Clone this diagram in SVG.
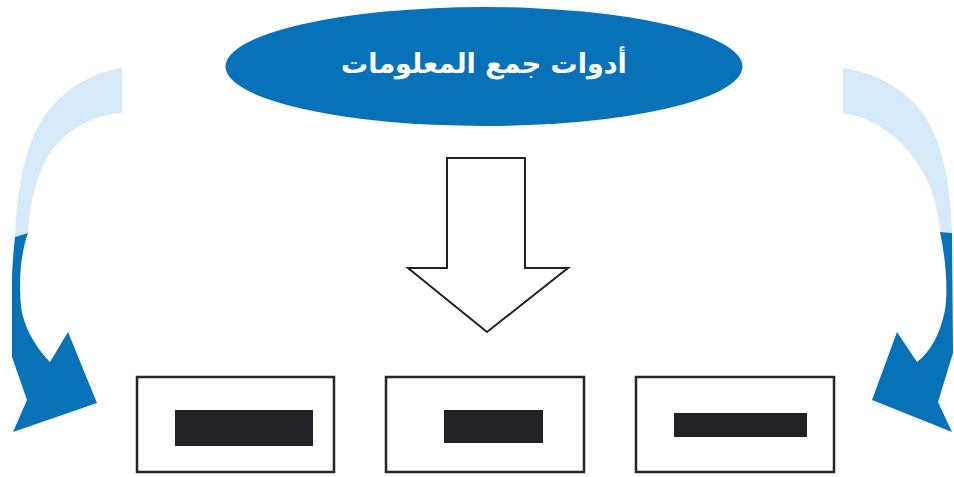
<svg xmlns="http://www.w3.org/2000/svg" width="954" height="477" viewBox="0 0 954 477">
<style>
.box{fill:#fff;stroke:#262626;stroke-width:2.5}
.bar{fill:#222226}
.light{fill:#d6e9f8}
.dark{fill:#0872b9}
.label{font-family:"DejaVu Sans",sans-serif;font-weight:bold;font-size:27px;fill:#fff;text-anchor:middle}
</style>
<rect width="954" height="477" fill="#fff"/>
<g id="title">
<ellipse cx="484" cy="66.5" rx="258.5" ry="59.5" class="dark"/>
<text x="484" y="73" class="label" direction="rtl">أدوات جمع المعلومات</text>
</g>
<g id="connectors">
<g id="left-arrow">
<path class="light" d="M122,68 C95,72 70,86 52,106 C30,132 18,170 15,237 L28,233 C30,200 38,170 52,150 C70,128 95,114 122,113 Z"/>
<path class="dark" d="M15,237 C13,255 12,270 12,283 L12,357 L27,400 L13,432 L97,403 L68,332 L50,362 C38,350 27,333 22,313 C19,295 20,270 22,258 C24,246 26,238 28,233 Z"/>
</g>
<g id="right-arrow">
<path class="light" d="M843,68 C870,72 900,84 922,112 C942,140 950,180 952,233 L940,232 C938,205 930,180 915,160 C900,138 875,118 843,113 Z"/>
<path class="dark" d="M952,233 L953,353 L938,402 L952,432 L872,400 L897,332 L917,362 C930,352 940,335 945,310 C948,290 946,260 940,232 Z"/>
</g>
<polygon id="down-arrow" points="447,158 525,158 525,268 568,268 487,332 408,268 447,268" fill="#fff" stroke="#222" stroke-width="2" stroke-linejoin="miter"/>
</g>
<g id="box1">
<rect class="box" x="137" y="377" width="197" height="95"/>
<rect class="bar" x="175" y="410" width="138" height="36"/>
</g>
<g id="box2">
<rect class="box" x="386" y="377" width="198" height="95"/>
<rect class="bar" x="444" y="410" width="99" height="33"/>
</g>
<g id="box3">
<rect class="box" x="636" y="377" width="198" height="95"/>
<rect class="bar" x="674" y="413" width="133" height="24"/>
</g>
</svg>
